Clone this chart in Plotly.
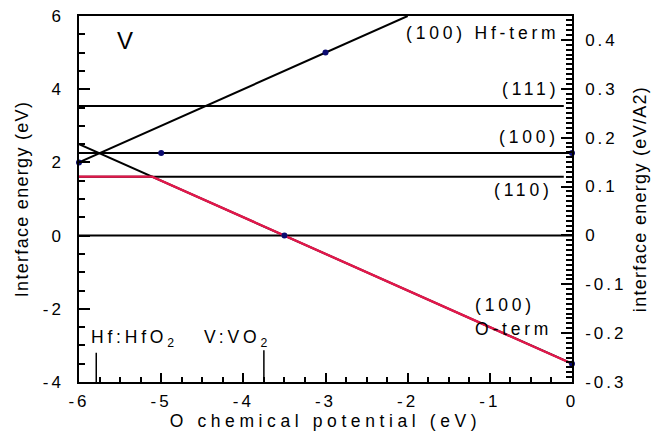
import plotly.graph_objects as go

# --- data -------------------------------------------------------------
# O chemical potential (eV) end points of each interface-energy line
hf_term_x = [-6.0, -2.0]
hf_term_y = [2.0, 6.0]          # (100) Hf-terminated
o_term_x = [-6.0, 0.0]
o_term_y = [2.5, -3.5]          # (100) O-terminated

gamma_111 = 3.54
gamma_100 = 2.26
gamma_110 = 1.61

flat_x_short = [-6.0, -0.1]
flat_x_full = [-6.0, 0.0]

# lowest-energy envelope
env_x = [-6.0, -5.11, 0.0]
env_y = [1.61, 1.61, -3.5]

# computed points
pts_x = [-6.0, -5.0, -3.0, 0.0, -3.5, 0.0]
pts_y = [2.0, 2.26, 5.0, 2.26, 0.0, -3.5]

# reference chemical potentials (metal : oxide coexistence)
hf_ref_x = [-5.79, -5.79]
hf_ref_y = [-4.0, -3.2]
v_ref_x = [-3.75, -3.75]
v_ref_y = [-4.0, -3.13]

x_ticks = [-6, -5, -4, -3, -2, -1, 0]
y_ticks = [-4, -2, 0, 2, 4, 6]
y2_ticks = [-0.3, -0.2, -0.1, 0.0, 0.1, 0.2, 0.3, 0.4]
y2_labels = ["-0.3", "-0.2", "-0.1", "0", "0.1", "0.2", "0.3", "0.4"]

FONT = "Liberation Sans, Arial, Helvetica, sans-serif"
RED = "#E3174B"
NAVY = "#0B0B70"
INK = "#000000"


def spaced(s, px):
    return f"<span style='letter-spacing:{px}px'>{s}</span>"


fig = go.Figure()

line_k = dict(color=INK, width=2)

fig.add_trace(go.Scatter(x=flat_x_short, y=[gamma_111] * 2, mode="lines", line=line_k))
fig.add_trace(go.Scatter(x=flat_x_full, y=[gamma_100] * 2, mode="lines", line=line_k))
fig.add_trace(go.Scatter(x=flat_x_short, y=[gamma_110] * 2, mode="lines", line=line_k))
fig.add_trace(go.Scatter(x=flat_x_full, y=[0, 0], mode="lines", line=line_k))
fig.add_trace(go.Scatter(x=hf_term_x, y=hf_term_y, mode="lines", line=line_k))
fig.add_trace(go.Scatter(x=o_term_x, y=o_term_y, mode="lines", line=line_k))
fig.add_trace(go.Scatter(x=env_x, y=env_y, mode="lines", line=dict(color=RED, width=2.4)))
fig.add_trace(go.Scatter(x=hf_ref_x, y=hf_ref_y, mode="lines", line=dict(color=INK, width=1.5)))
fig.add_trace(go.Scatter(x=v_ref_x, y=v_ref_y, mode="lines", line=dict(color=INK, width=1.5)))
fig.add_trace(go.Scatter(x=pts_x, y=pts_y, mode="markers", cliponaxis=False,
                         marker=dict(color=NAVY, size=6)))
# invisible trace to activate the right-hand axis
fig.add_trace(go.Scatter(x=[-6], y=[0], yaxis="y2", mode="markers",
                         marker=dict(opacity=0), hoverinfo="skip"))

tick_font = dict(family=FONT, size=17, color=INK)
lbl_font = dict(family=FONT, size=17.5, color=INK)


def minor(step, length):
    return dict(tickmode="linear", tick0=0, dtick=step, ticks="inside",
                ticklen=length, tickcolor=INK)


fig.update_layout(
    width=664, height=438,
    margin=dict(l=79, r=92, t=16, b=56),
    plot_bgcolor="white",
    showlegend=False,
    xaxis=dict(
        range=[-6, 0], showline=True, linecolor=INK, linewidth=1.5, mirror=True,
        automargin=False,
        ticks="inside", ticklen=9, tickwidth=1.5, tickcolor=INK,
        tickmode="array", tickvals=x_ticks,
        ticktext=[spaced(str(v), 3) for v in x_ticks],
        tickfont=tick_font, ticklabelstandoff=3,
        minor=minor(0.25, 5),
        title=dict(text=spaced("O chemical potential (eV)", 4.6),
                   font=dict(family=FONT, size=17.5, color=INK), standoff=4),
    ),
    yaxis=dict(
        range=[-4, 6], showline=True, linecolor=INK, linewidth=1.5,
        automargin=False,
        ticks="inside", ticklen=11, tickwidth=1.5, tickcolor=INK,
        tickmode="array", tickvals=y_ticks,
        ticktext=[spaced(str(v), 3) for v in y_ticks],
        tickfont=tick_font, ticklabelstandoff=10,
        minor=minor(0.5, 6),
        title=dict(text=spaced("Interface energy (eV)", 1.3),
                   font=dict(family=FONT, size=18, color=INK), standoff=9),
    ),
    yaxis2=dict(
        overlaying="y", side="right",
        range=[-0.3, 0.449], showline=True, linecolor=INK, linewidth=1.5,
        automargin=False,
        ticks="inside", ticklen=11, tickwidth=1.5, tickcolor=INK,
        tickmode="array", tickvals=y2_ticks,
        ticktext=[spaced(t, 3) for t in y2_labels],
        tickfont=tick_font, ticklabelstandoff=8,
        minor=minor(0.01, 6),
        title=dict(text=spaced("interface energy (eV/A2)", 1.3),
                   font=dict(family=FONT, size=18, color=INK), standoff=8),
    ),
)

annos = [
    dict(x=-5.44, y=5.32, text="V", xanchor="center", font=dict(family=FONT, size=24, color=INK)),
    dict(x=-0.14, y=5.53, text=spaced("(100) Hf-term", 3.8), xanchor="right", font=lbl_font),
    dict(x=-0.14, y=4.0, text=spaced("(111)", 3.8), xanchor="right", font=lbl_font),
    dict(x=-0.14, y=2.69, text=spaced("(100)", 3.8), xanchor="right", font=lbl_font),
    dict(x=-0.21, y=1.24, text=spaced("(110)", 3.8), xanchor="right", font=lbl_font),
    dict(x=-1.21, y=-1.90, text=spaced("(100)", 3.8), xanchor="left", font=lbl_font),
    dict(x=-1.21, y=-2.55, text=spaced("O-term", 3.8), xanchor="left", font=lbl_font),
    dict(x=-5.88, y=-2.80, text=spaced("Hf:HfO<sub>2</sub>", 3.8), xanchor="left", font=lbl_font),
    dict(x=-4.50, y=-2.80, text=spaced("V:VO<sub>2</sub>", 3.8), xanchor="left", font=lbl_font),
]
for a in annos:
    fig.add_annotation(xref="x", yref="y", showarrow=False, yanchor="middle", **a)

fig.write_html("out.html")
